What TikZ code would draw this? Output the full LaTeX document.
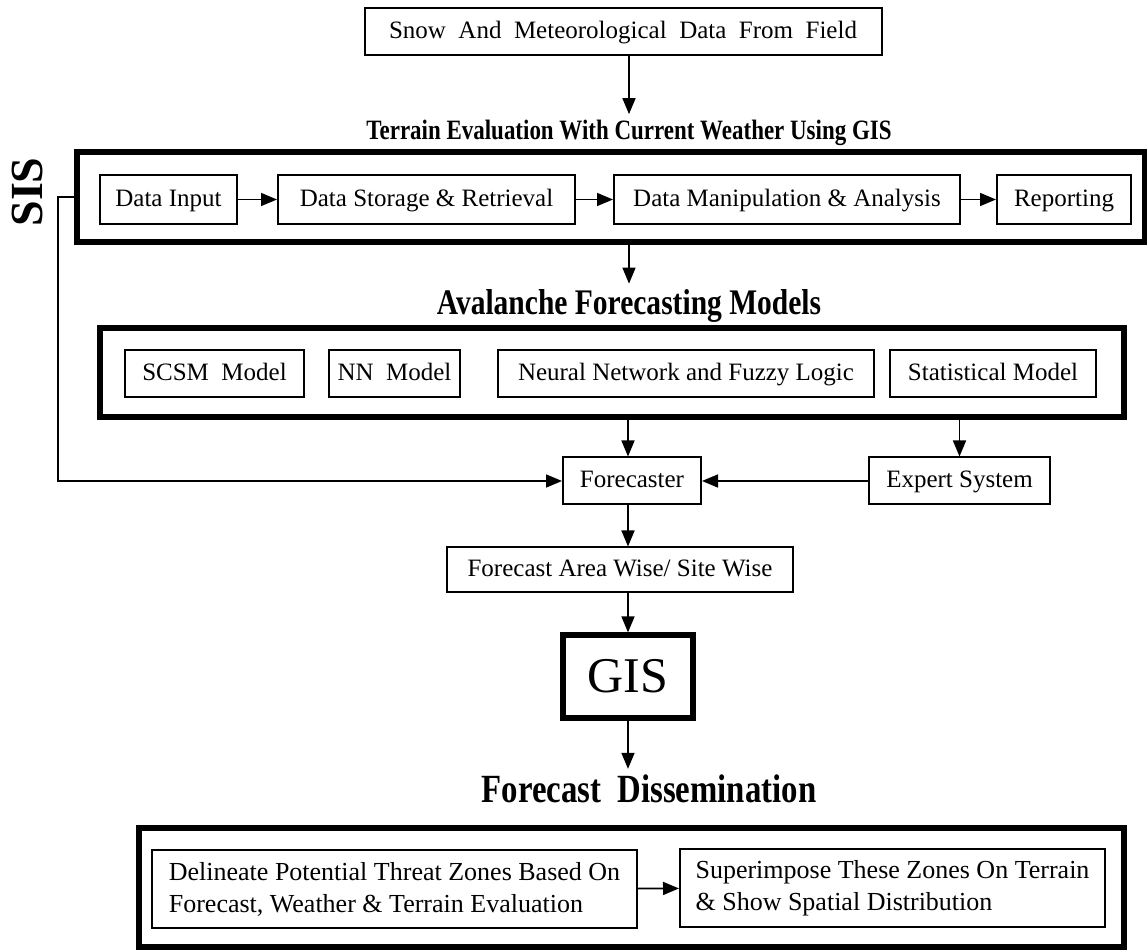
\documentclass[tikz,border=0pt]{standalone}
\usepackage{fontspec}
\setmainfont{Liberation Serif}
\newfontfamily\headfont[FakeStretch=0.82]{Liberation Serif}
\usetikzlibrary{arrows.meta,positioning}

\tikzset{
    notebox/.style={
        draw,
        line width=1pt,
        inner sep=0pt,
        font=\fontsize{12.5}{15}\selectfont
    },
    thinbox/.style={
        notebox,
        text height=7.8pt,
        text depth=0.8pt
    },
    thickbox/.style={
        draw,
        line width=2.8pt,
        inner sep=0pt
    },
    headtext/.style={
        anchor=base,
        inner sep=3pt
    },
    flowarrow/.style={
        line width=0.8pt,
        -{Triangle[length=8pt, width=6.5pt]}
    }
}

\begin{document}
\begin{tikzpicture}[x=0.5pt, y=-0.5pt]
	\useasboundingbox (0,0) rectangle (1147,951);

	\node[thinbox, minimum width=258.5pt, minimum height=23.5pt] (field) at (623,31.5) {Snow~ And~ Meteorological~ Data~ From~ Field};
	\node[headtext, font=\headfont\bfseries\fontsize{14}{16}\selectfont] (terrain) at (629,140) {Terrain Evaluation With Current Weather Using GIS};

	% GIS steps
	\node[thickbox, minimum width=534pt, minimum height=45pt] (gisframe) at (611,197) {};
	\node[thinbox, minimum width=68.5pt, minimum height=24.5pt] (input) at (168.5,199.5) {Data Input};
	\node[thinbox, minimum width=148.5pt, minimum height=24.5pt] (storage) at (426.5,199.5) {Data Storage \& Retrieval};
	\node[thinbox, minimum width=173pt, minimum height=24.5pt] (analysis) at (787,199.5) {Data Manipulation \& Analysis};
	\node[thinbox, minimum width=67pt, minimum height=24.5pt] (reporting) at (1064,199.5) {Reporting};

	\node[rotate=90, inner sep=0pt, font=\bfseries\fontsize{23}{25}\selectfont] (sis) at (27,192) {SIS};

	\node[headtext, font=\headfont\bfseries\fontsize{18}{20}\selectfont] (models) at (629,315) {Avalanche Forecasting Models};

	% models
	\node[thickbox, minimum width=512pt, minimum height=44.5pt] (modelframe) at (612,372.5) {};
	\node[thinbox, minimum width=89.5pt, minimum height=23.5pt] (scsm) at (214.5,373.5) {SCSM~ Model};
	\node[thinbox, minimum width=65.5pt, minimum height=23.5pt] (nnmodel) at (394.5,373.5) {NN~ Model};
	\node[thinbox, minimum width=188pt, minimum height=23.5pt] (fuzzy) at (686,373.5) {Neural Network and Fuzzy Logic};
	\node[thinbox, minimum width=103pt, minimum height=23.5pt] (statmodel) at (993,373.5) {Statistical Model};

	\node[thinbox, minimum width=69pt, minimum height=23.5pt] (forecaster) at (632,481) {Forecaster};
	\node[thinbox, minimum width=90.5pt, minimum height=23.5pt] (expert) at (959.5,481) {Expert System};
	\node[thinbox, minimum width=173pt, minimum height=22.5pt] (areawise) at (620,570) {Forecast Area Wise/ Site Wise};

	\node[draw, line width=2.6pt, minimum width=65pt, minimum height=41.5pt, font=\fontsize{25}{27}\selectfont] (gis) at (628,676.5) {GIS};

	\node[headtext, font=\headfont\bfseries\fontsize{20}{22}\selectfont] (dissem) at (649,803) {Forecast~ Dissemination};

	% dissemination
	\node[thickbox, minimum width=492.5pt, minimum height=59.5pt] (dissframe) at (631.5,887.5) {};
	\node[notebox, minimum width=242.5pt, minimum height=39pt, align=left, font=\fontsize{13}{16}\selectfont] (threat) at (394.5,889) {Delineate Potential Threat Zones Based On\\Forecast, Weather \& Terrain Evaluation};
	\node[notebox, minimum width=212.5pt, minimum height=39pt, align=left, font=\fontsize{13}{16}\selectfont] (spatial) at (892.5,888) {Superimpose These Zones On Terrain\\\& Show Spatial Distribution};

	\coordinate (sisbend) at (58,481);

	\draw[flowarrow] (field.south -| terrain.north) -- (terrain.north);
	\draw[flowarrow] (input) -- (storage);
	\draw[flowarrow] (storage) -- (analysis);
	\draw[flowarrow] (analysis) -- (reporting);
	\draw[flowarrow] (gisframe.south -| models.north) -- (models.north);
	\draw[flowarrow] (modelframe.south -| gis) -- (forecaster.north -| gis);
	\draw[flowarrow] (modelframe.south -| expert.north) -- (expert.north);
	\draw[flowarrow] (expert) -- (forecaster);
	\draw[flowarrow] (gisframe.west) -- (sisbend |- gisframe.west) -- (sisbend) -- (forecaster.west);
	\draw[flowarrow] (forecaster.south -| gis) -- (areawise.north -| gis);
	\draw[flowarrow] (areawise.south -| gis) -- (gis);
	\draw[flowarrow] (gis) -- (dissem.north -| gis);
	\draw[flowarrow] (threat) -- (spatial);
\end{tikzpicture}
\end{document}
